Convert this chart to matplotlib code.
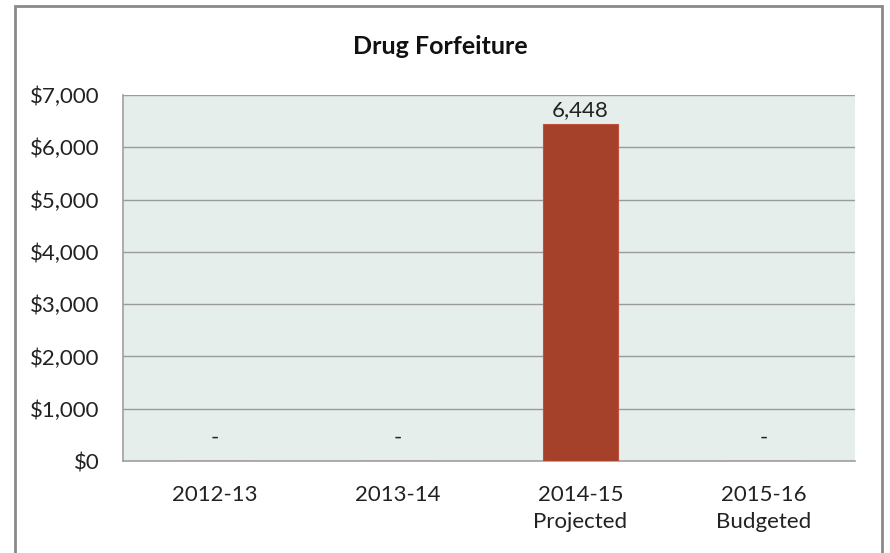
import matplotlib
matplotlib.use("Agg")
import matplotlib.pyplot as plt
from matplotlib.patches import Rectangle

categories = ["2012-13", "2013-14", "2014-15\nProjected", "2015-16\nBudgeted"]
values = [0, 0, 6448, 0]
yticks = [0, 1000, 2000, 3000, 4000, 5000, 6000, 7000]
title = "Drug Forfeiture"

plt.rcParams['font.family'] = ['Lato', 'DejaVu Sans']

fig = plt.figure(figsize=(8.9, 5.53), dpi=100)
ax = fig.add_axes([123/890, 92/553, 732/890, 366/553])
ax.set_facecolor('#E6EEEC')

x = list(range(len(categories)))
ax.bar(x, values, width=0.41, color='#A5412A', edgecolor='#C0503A', linewidth=0.8, zorder=3)

ax.set_xlim(-0.5, len(categories) - 0.5)
ax.set_ylim(0, 7000)
ax.set_yticks(yticks)
ax.set_yticklabels([f"${v:,.0f}" for v in yticks], fontsize=16, color='#222222')
ax.set_xticks(x)
ax.set_xticklabels(categories, fontsize=16, color='#222222', linespacing=1.45)
ax.tick_params(axis='y', length=0, pad=17)
ax.tick_params(axis='x', length=0, pad=17)
ax.yaxis.grid(True, color='#9A9A9A', linewidth=1.0, zorder=0)
ax.set_axisbelow(True)
for s in ['top', 'right']:
    ax.spines[s].set_visible(False)
ax.spines['left'].set_color('#A0A0A0')
ax.spines['bottom'].set_color('#A0A0A0')
ax.spines['left'].set_linewidth(1.2)
ax.spines['bottom'].set_linewidth(1.2)

for xi, v in zip(x, values):
    if v == 0:
        ax.text(xi, 340, "-", ha='center', va='baseline', fontsize=16, color='#222222')
    else:
        ax.text(xi, v + 150, f"{v:,.0f}", ha='center', va='baseline', fontsize=16, color='#222222')

fig.text(440/890, 1 - 47/553, title, ha='center', va='center', fontsize=18, fontweight='bold', color='#111111')

bottom = -0.05
top = 1 - 6/553
border = Rectangle((15/890, bottom), (882 - 15)/890, top - bottom,
                   transform=fig.transFigure, fill=False, edgecolor='#8A8A8A', linewidth=2.0)
fig.patches.append(border)

fig.savefig("out.png", dpi=100)
